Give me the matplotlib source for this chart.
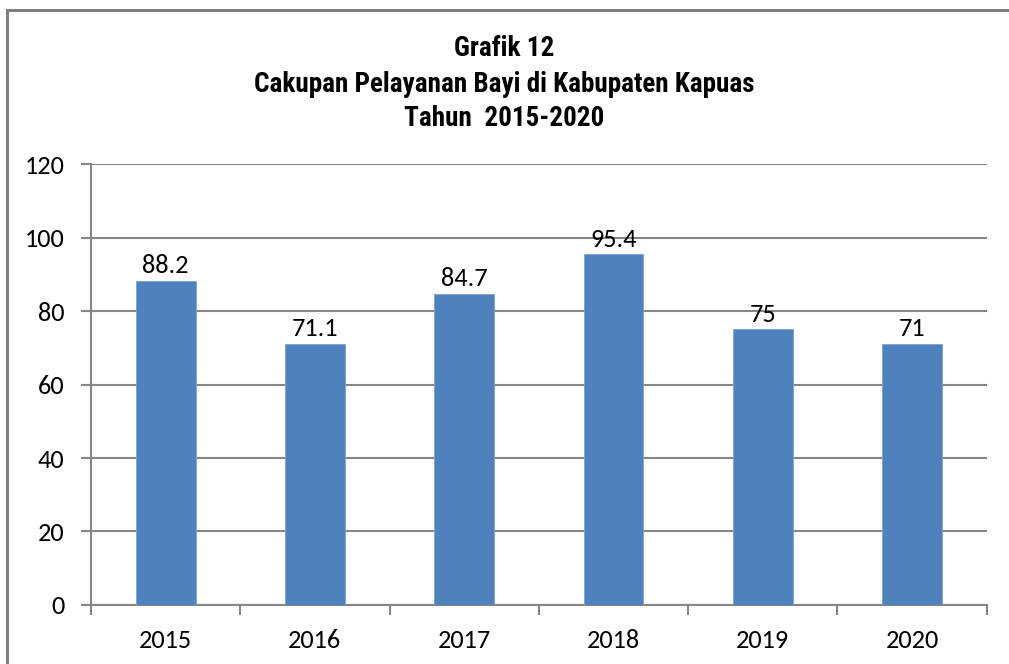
import matplotlib
matplotlib.use('Agg')
import matplotlib.pyplot as plt
from matplotlib.patches import Rectangle

years = ['2015', '2016', '2017', '2018', '2019', '2020']
coverage = [88.2, 71.1, 84.7, 95.4, 75, 71]
value_labels = ['88.2', '71.1', '84.7', '95.4', '75', '71']
yticks = [0, 20, 40, 60, 80, 100, 120]

title_font = ['Roboto Condensed', 'DejaVu Sans']
body_font = ['Carlito', 'DejaVu Sans']

fig = plt.figure(figsize=(10.09, 6.64), dpi=100)
ax = fig.add_axes([0.0902, 0.0889, 0.8877, 0.664])

# outer chart border (cut off on right and bottom)
fig.patches.append(Rectangle((7 / 1009, -0.05), 1.1, 1 - 10 / 664 + 0.05,
                             transform=fig.transFigure, fill=False,
                             edgecolor='#7f7f7f', linewidth=2.2))

x = list(range(len(years)))
bars = ax.bar(x, coverage, width=0.4, color='#4F81BD', edgecolor='#7ea3d1',
              linewidth=0.6, zorder=3)
for b, lab in zip(bars, value_labels):
    ax.text(b.get_x() + b.get_width() / 2, b.get_height() + 1.0, lab,
            ha='center', va='bottom', fontsize=19, family=body_font, zorder=4)

ax.set_xlim(-0.5, len(years) - 0.5)
ax.set_ylim(0, 120)
ax.set_yticks(yticks)
ax.set_yticklabels([str(v) for v in yticks], fontsize=19, family=body_font)
ax.set_xticks(x)
ax.set_xticklabels(years, fontsize=19, family=body_font)
ax.set_xticks([i - 0.5 for i in range(len(years) + 1)], minor=True)
ax.tick_params(axis='x', which='major', length=0, pad=17)
ax.tick_params(axis='x', which='minor', length=7, width=1.5, color='#868686')
ax.tick_params(axis='y', length=7, width=1.5, color='#868686', pad=12)

ax.grid(axis='y', color='#868686', linewidth=1.5, zorder=0)
for s in ['top', 'right']:
    ax.spines[s].set_visible(False)
for s in ['left', 'bottom']:
    ax.spines[s].set_color('#868686')
    ax.spines[s].set_linewidth(1.5)

title_lines = ['Grafik 12', 'Cakupan Pelayanan Bayi di Kabupaten Kapuas', 'Tahun  2015-2020']
for ypix, line in zip([49, 85, 119], title_lines):
    fig.text(0.5, 1 - ypix / 664, line, ha='center', va='center',
             fontsize=19.5, fontweight='bold', family=title_font)

fig.savefig('out.png', dpi=100)
